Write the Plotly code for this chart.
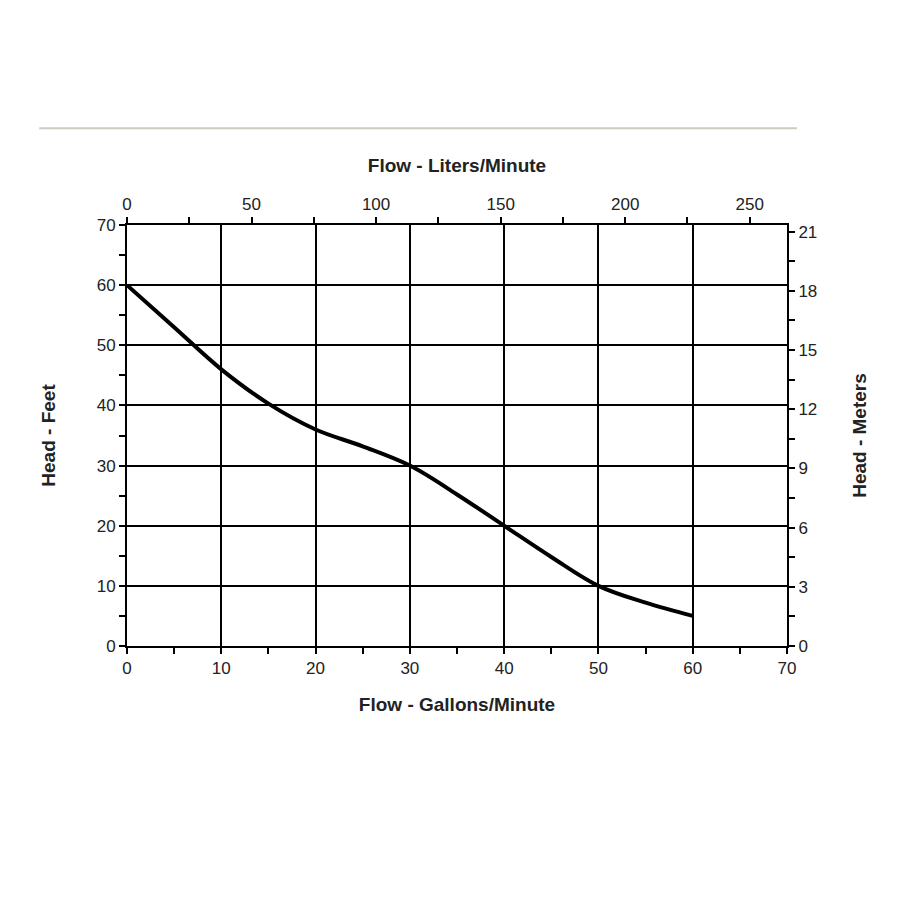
import plotly.graph_objects as go

gpm = [0, 5, 10, 15, 20, 25, 30, 35, 40, 45, 50, 55, 60]
head_ft = [60, 53, 46, 40.3, 36, 33.2, 30, 25.2, 20, 14.8, 10, 7.2, 5]

L_PER_GAL = 3.785
M_PER_FT = 0.3048

fig = go.Figure()
fig.add_trace(go.Scatter(x=gpm, y=head_ft, mode="lines", line=dict(color="black", width=4, shape="spline"), showlegend=False))
fig.add_trace(go.Scatter(x=[0], y=[0], xaxis="x2", yaxis="y", mode="markers", marker=dict(opacity=0), showlegend=False, hoverinfo="skip"))
fig.add_trace(go.Scatter(x=[0], y=[0], xaxis="x", yaxis="y2", mode="markers", marker=dict(opacity=0), showlegend=False, hoverinfo="skip"))

font = dict(family="Liberation Sans, Arial", size=17, color="#222")
tfont = dict(family="Liberation Sans, Arial", size=19, color="#222")
common = dict(showline=True, linecolor="black", linewidth=2, ticks="outside", ticklen=6, tickwidth=2, tickcolor="black",
              tickfont=font, zeroline=False)
fig.update_layout(
    width=900, height=900, paper_bgcolor="white", plot_bgcolor="white",
    margin=dict(l=119, r=121, t=217, b=262),
    xaxis=dict(range=[0, 70], dtick=10, showgrid=True, gridcolor="black", gridwidth=2,
               minor=dict(dtick=5, ticks="outside", ticklen=6, tickcolor="black", tickwidth=2, showgrid=False),
               title=dict(text="<b>Flow - Gallons/Minute</b>", font=tfont, standoff=20),
               **common),
    yaxis=dict(range=[0, 70], dtick=10, showgrid=True, gridcolor="black", gridwidth=2,
               minor=dict(dtick=5, ticks="outside", ticklen=6, tickcolor="black", tickwidth=2, showgrid=False),
               title=dict(text="<b>Head - Feet</b>", font=tfont, standoff=36),
               **common),
    xaxis2=dict(overlaying="x", side="top", range=[0, 70 * L_PER_GAL], dtick=50, showgrid=False,
                minor=dict(dtick=25, ticks="outside", ticklen=6, tickcolor="black", tickwidth=2),
                title=dict(text="<b>Flow - Liters/Minute</b>", font=tfont, standoff=18),
                **common),
    yaxis2=dict(overlaying="y", side="right", range=[0, 70 * M_PER_FT], dtick=3, showgrid=False,
                minor=dict(dtick=1.5, ticks="outside", ticklen=6, tickcolor="black", tickwidth=2),
                title=dict(text="<b>Head - Meters</b>", font=tfont, standoff=36),
                **common),
    shapes=[dict(type="line", xref="paper", yref="paper", x0=-0.133, x1=1.015, y0=1.23, y1=1.23,
                 line=dict(color="#c8cfc0", width=2))],
)
fig.write_html("out.html")
